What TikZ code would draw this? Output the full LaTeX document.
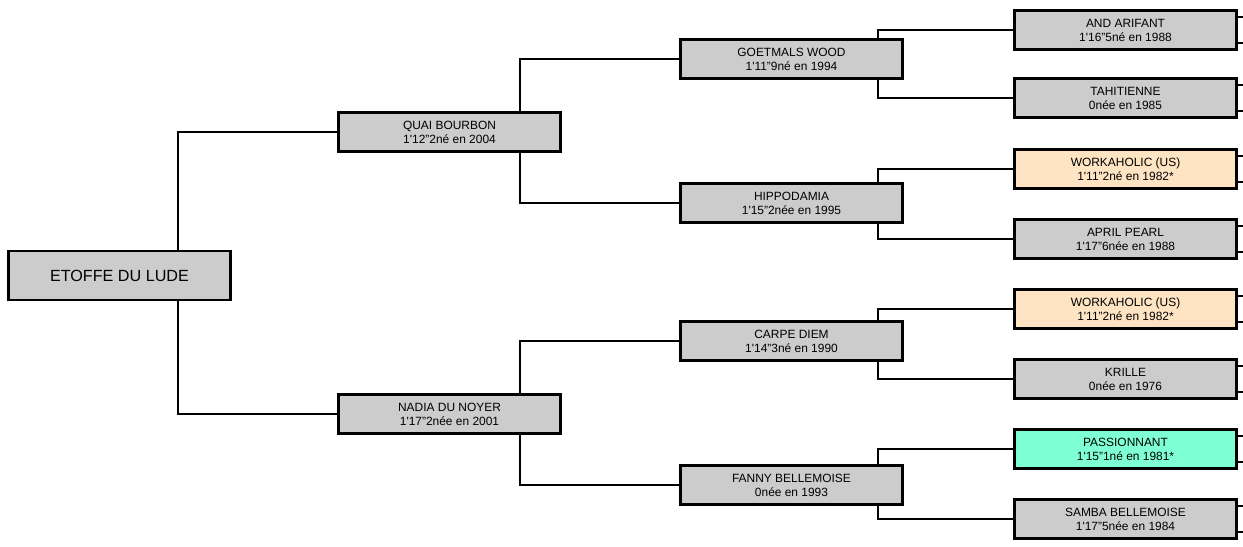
\documentclass[tikz,border=0pt]{standalone}
\usepackage{fontspec}
\setmainfont{Liberation Sans}
\newcommand{\tq}{\textquotesingle}
\definecolor{boxgrey}{HTML}{CCCCCC}
\definecolor{peach}{HTML}{FFE4C4}
\definecolor{aqua}{HTML}{7FFFD4}
\begin{document}
\begin{tikzpicture}[
  x = 0.02cm,
  y = -0.02cm,
  horse/.style = {
    shape = rectangle,
    draw = black,
    line width = 1.6pt,
    fill = boxgrey,
    minimum width = 4.44cm,
    minimum height = 0.77cm,
    inner sep = 0pt,
    align = center,
    font = \fontsize{6.8}{8}\selectfont
  },
  every path/.style = {
    line width = 0.6pt
  }
]
  \useasboundingbox (0, 0) rectangle (1243, 547);

  \node[horse, minimum height = 0.98cm, font = \fontsize{9.2}{11}\selectfont] (root) at (119.5, 275.5) {ETOFFE DU LUDE};

  \node[horse] (quai) at (449.5, 132) {QUAI BOURBON\\1\tq12"2né en 2004};
  \node[horse] (nadia) at (449.5, 414) {NADIA DU NOYER\\1\tq17"2née en 2001};

  \node[horse] (goet) at (791.5, 59) {GOETMALS WOOD\\1\tq11"9né en 1994};
  \node[horse] (hippo) at (791.5, 203) {HIPPODAMIA\\1\tq15"2née en 1995};
  \node[horse] (carpe) at (791.5, 341) {CARPE DIEM\\1\tq14"3né en 1990};
  \node[horse] (fanny) at (791.5, 485) {FANNY BELLEMOISE\\0née en 1993};

  \node[horse] (and) at (1125.5, 30) {AND ARIFANT\\1\tq16"5né en 1988};
  \node[horse] (tahi) at (1125.5, 98) {TAHITIENNE\\0née en 1985};
  \node[horse, fill = peach] (work1) at (1125.5, 169) {WORKAHOLIC (US)\\1\tq11"2né en 1982*};
  \node[horse] (april) at (1125.5, 239) {APRIL PEARL\\1\tq17"6née en 1988};
  \node[horse, fill = peach] (work2) at (1125.5, 309) {WORKAHOLIC (US)\\1\tq11"2né en 1982*};
  \node[horse] (krille) at (1125.5, 379) {KRILLE\\0née en 1976};
  \node[horse, fill = aqua] (pass) at (1125.5, 449) {PASSIONNANT\\1\tq15"1né en 1981*};
  \node[horse] (samba) at (1125.5, 519) {SAMBA BELLEMOISE\\1\tq17"5née en 1984};

  \draw (root.north -| 178, 0) |- (quai.west);
  \draw (root.south -| 178, 0) |- (nadia.west);

  \draw (quai.south -| 520, 0) |- (hippo.west);
  \draw (quai.north -| 520, 0) |- (goet.west);
  \draw (nadia.north -| 520, 0) |- (carpe.west);
  \draw (nadia.south -| 520, 0) |- (fanny.west);

  \draw (goet.north -| 878, 0) |- (and.west);
  \draw (goet.south -| 878, 0) |- (tahi.west);
  \draw (hippo.north -| 878, 0) |- (work1.west);
  \draw (hippo.south -| 878, 0) |- (april.west);
  \draw (carpe.north -| 878, 0) |- (work2.west);
  \draw (carpe.south -| 878, 0) |- (krille.west);
  \draw (fanny.north -| 878, 0) |- (pass.west);
  \draw (fanny.south -| 878, 0) |- (samba.west);

  % short stubs on the right
  \foreach \n in {and, tahi, work1, april, work2, krille, pass, samba} {
    \draw ([yshift = 0.26cm]\n.east) -- ++(6, 0);
    \draw ([yshift = -0.26cm]\n.east) -- ++(6, 0);
  }
\end{tikzpicture}
\end{document}
